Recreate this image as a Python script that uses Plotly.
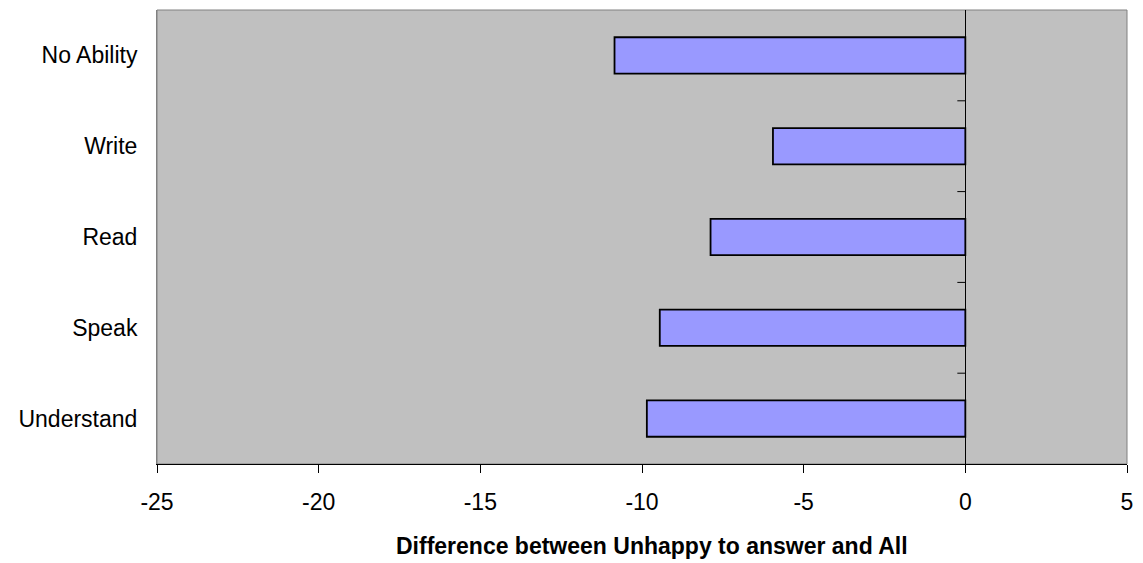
import plotly.graph_objects as go

categories = ["Understand", "Speak", "Read", "Write", "No Ability"]
values = [-9.85, -9.45, -7.88, -5.95, -10.85]
x_ticks = [-25, -20, -15, -10, -5, 0, 5]
x_title = "Difference between Unhappy to answer and All"

FONT = "Liberation Sans, Arial, sans-serif"

fig = go.Figure()
fig.add_trace(go.Bar(
    y=categories, x=values, orientation="h",
    marker=dict(color="#9999FF", line=dict(color="black", width=1.8)),
    width=0.4,
))

shapes = [dict(type="rect", xref="paper", yref="paper", x0=0, x1=1, y0=0, y1=1,
               line=dict(color="#808080", width=1), layer="below")]
for i in range(len(categories) - 1):
    shapes.append(dict(type="line", xref="x", yref="y", xsizemode="pixel", xanchor=0,
                       x0=-8, x1=0, y0=i + 0.5, y1=i + 0.5,
                       line=dict(color="black", width=1)))

fig.update_layout(
    width=1143, height=563,
    margin=dict(l=157, r=14, t=10, b=99),
    paper_bgcolor="white", plot_bgcolor="#C0C0C0",
    showlegend=False,
    font=dict(family=FONT, size=23, color="black"),
    shapes=shapes,
    annotations=[dict(text="<b>" + x_title + "</b>", xref="paper", yref="paper",
                      x=0.51, y=0, yanchor="middle", yshift=-82, showarrow=False,
                      font=dict(family=FONT, size=23, color="black"))],
)
fig.update_xaxes(range=[-25, 5], tickvals=x_ticks, ticktext=[str(v) for v in x_ticks],
                 showgrid=False, zeroline=True, zerolinecolor="black", zerolinewidth=1,
                 showline=True, linecolor="black", linewidth=1,
                 ticks="outside", ticklen=8, tickcolor="black", ticklabelstandoff=9,
                 tickfont=dict(size=23))
fig.update_yaxes(range=[-0.5, 4.5], showgrid=False, zeroline=False,
                 showline=True, linecolor="#808080", linewidth=1,
                 ticks="", ticklabelstandoff=14, tickfont=dict(size=23),
                 categoryorder="array", categoryarray=categories)

fig.write_html("out.html", config={"displayModeBar": False},
               post_script="document.body.style.margin='0px';")
